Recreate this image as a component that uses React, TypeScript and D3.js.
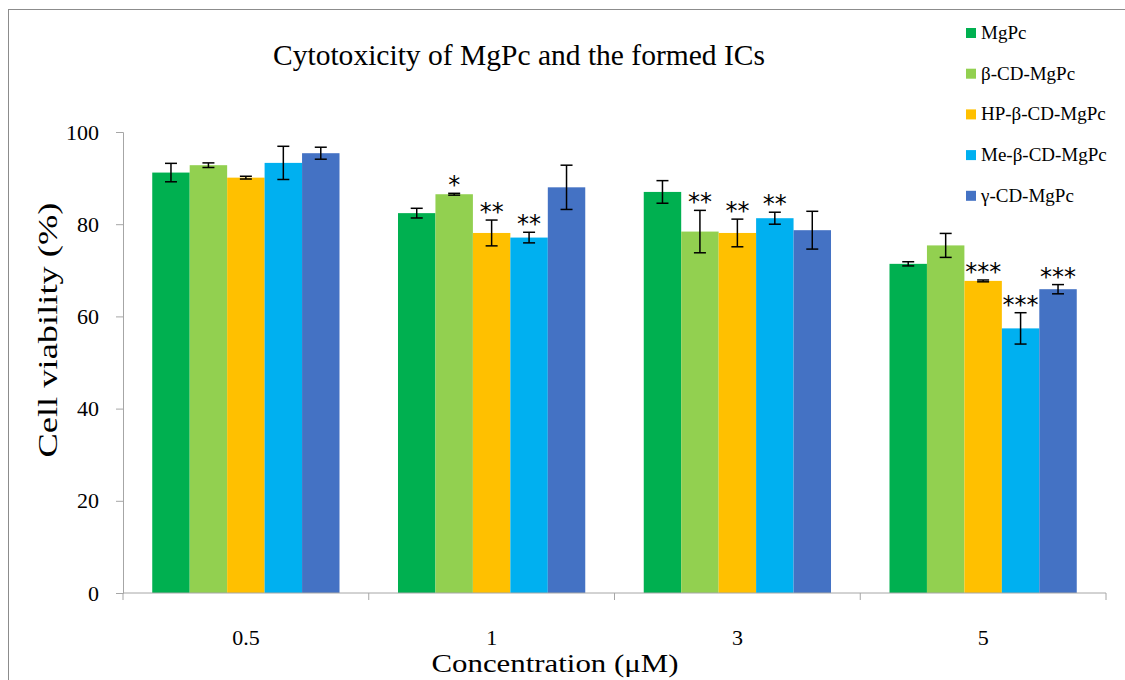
import { useRef, useEffect } from "react";
import * as d3 from "d3";

const concentrations = ["0.5", "1", "3", "5"];
const seriesNames = ["MgPc", "β-CD-MgPc", "HP-β-CD-MgPc", "Me-β-CD-MgPc", "γ-CD-MgPc"];
const seriesColors = ["#00B050", "#92D050", "#FFC000", "#00B0F0", "#4472C4"];

// viability per series, one value per concentration
const viability = [
    [91.2, 82.4, 87.0, 71.4],
    [92.8, 86.5, 78.4, 75.4],
    [90.1, 78.1, 78.1, 67.7],
    [93.3, 77.1, 81.3, 57.4],
    [95.4, 88.0, 78.7, 65.9],
];
const errors = [
    [2.0, 1.05, 2.45, 0.45],
    [0.5, 0.2, 4.6, 2.6],
    [0.3, 2.8, 3.0, 0.2],
    [3.6, 1.15, 1.3, 3.4],
    [1.3, 4.8, 4.1, 1.0],
];
const stars = [
    ["", "", "", ""],
    ["", "*", "**", ""],
    ["", "**", "**", "***"],
    ["", "**", "**", "***"],
    ["", "", "", "***"],
];
const yTicks = [0, 20, 40, 60, 80, 100];

const FONT = "'Palatino Linotype', 'Book Antiqua', Palatino, 'Liberation Serif', serif";

export default function App() {
    const svgRef = useRef<SVGSVGElement | null>(null);

    useEffect(() => {
        document.body.style.margin = "0";
        if (!svgRef.current) return;
        const svg = d3.select(svgRef.current);
        svg.selectAll("*").remove();

        const margin = { left: 123, right: 1106, top: 132, bottom: 593 };

        const x = d3.scaleBand<string>()
            .domain(concentrations)
            .range([margin.left, margin.right])
            .paddingInner(0.238)
            .paddingOuter(0.119);
        const xs = d3.scaleBand<number>()
            .domain(d3.range(seriesNames.length))
            .range([0, x.bandwidth()]);
        const y = d3.scaleLinear().domain([0, 100]).range([margin.bottom, margin.top]);

        // outer frame
        svg.append("rect")
            .attr("x", 8.5).attr("y", 9.5)
            .attr("width", 1200).attr("height", 800)
            .attr("fill", "none").attr("stroke", "#8c8c8c").attr("stroke-width", 1);

        // title
        svg.append("text")
            .attr("x", 519).attr("y", 65)
            .attr("text-anchor", "middle")
            .attr("font-family", FONT).attr("font-size", 29)
            .attr("textLength", 492).attr("lengthAdjust", "spacingAndGlyphs")
            .text("Cytotoxicity of MgPc and the formed ICs");

        // bars
        const groups = svg.append("g").selectAll("g")
            .data(seriesNames)
            .join("g")
            .attr("fill", (_d, i) => seriesColors[i]);

        seriesNames.forEach((_name, si) => {
            const g = d3.select(groups.nodes()[si]);
            g.selectAll("rect")
                .data(viability[si])
                .join("rect")
                .attr("x", (_d, ci) => (x(concentrations[ci]) as number) + (xs(si) as number))
                .attr("y", (d) => y(d))
                .attr("width", xs.bandwidth())
                .attr("height", (d) => y(0) - y(d));
        });

        // error bars and stars
        const eb = svg.append("g").attr("stroke", "#000").attr("stroke-width", 1.5);
        const st = svg.append("g");
        seriesNames.forEach((_name, si) => {
            viability[si].forEach((v, ci) => {
                const cx = (x(concentrations[ci]) as number) + (xs(si) as number) + xs.bandwidth() / 2;
                const e = errors[si][ci];
                const hi = y(v + e), lo = y(v - e);
                eb.append("line").attr("x1", cx).attr("x2", cx).attr("y1", hi).attr("y2", lo);
                eb.append("line").attr("x1", cx - 6).attr("x2", cx + 6).attr("y1", hi).attr("y2", hi);
                eb.append("line").attr("x1", cx - 6).attr("x2", cx + 6).attr("y1", lo).attr("y2", lo);
                if (stars[si][ci]) {
                    st.append("text")
                        .attr("x", cx).attr("y", hi)
                        .attr("text-anchor", "middle")
                        .attr("font-family", "'DejaVu Sans', sans-serif")
                        .attr("font-size", 24)
                        .text(stars[si][ci]);
                }
            });
        });

        // y axis
        const yAxis = svg.append("g")
            .attr("transform", `translate(${margin.left},0)`)
            .call(d3.axisLeft(y).tickValues(yTicks).tickSize(7).tickPadding(17));
        yAxis.selectAll("path, line").attr("stroke", "#a6a6a6");
        yAxis.selectAll("text")
            .attr("font-family", FONT).attr("font-size", 22).attr("fill", "#000");

        // x axis: ticks at category boundaries
        const xAxis = svg.append("g").attr("transform", `translate(0,${margin.bottom})`);
        xAxis.append("line")
            .attr("x1", margin.left).attr("x2", margin.right)
            .attr("stroke", "#a6a6a6");
        const step = x.step();
        d3.range(concentrations.length + 1).forEach((i) => {
            const px = margin.left + i * step;
            xAxis.append("line").attr("x1", px).attr("x2", px).attr("y1", 0).attr("y2", 7)
                .attr("stroke", "#a6a6a6");
        });
        xAxis.selectAll("text.cat")
            .data(concentrations)
            .join("text")
            .attr("class", "cat")
            .attr("x", (d) => (x(d) as number) + x.bandwidth() / 2)
            .attr("y", 52)
            .attr("text-anchor", "middle")
            .attr("font-family", FONT).attr("font-size", 22)
            .text((d) => d);

        // axis titles
        svg.append("text")
            .attr("x", 555).attr("y", 672)
            .attr("text-anchor", "middle")
            .attr("font-family", FONT).attr("font-size", 26)
            .attr("textLength", 247).attr("lengthAdjust", "spacingAndGlyphs")
            .text("Concentration (μM)");
        svg.append("text")
            .attr("transform", "translate(57,330) rotate(-90)")
            .attr("text-anchor", "middle")
            .attr("font-family", FONT).attr("font-size", 27)
            .attr("textLength", 255).attr("lengthAdjust", "spacingAndGlyphs")
            .text("Cell viability (%)");

        // legend
        const legend = svg.append("g").attr("transform", "translate(966,33)");
        const items = legend.selectAll("g")
            .data(seriesNames)
            .join("g")
            .attr("transform", (_d, i) => `translate(0,${i * 40.7})`);
        items.append("rect")
            .attr("x", 0).attr("y", -5).attr("width", 10).attr("height", 10)
            .attr("fill", (_d, i) => seriesColors[i]);
        items.append("text")
            .attr("x", 15).attr("y", 6)
            .attr("font-family", FONT).attr("font-size", 19)
            .text((d) => d);
    }, []);

    return (
        <svg ref={svgRef} width={1125} height={680} style={{ display: "block", background: "#fff" }}></svg>
    );
}
